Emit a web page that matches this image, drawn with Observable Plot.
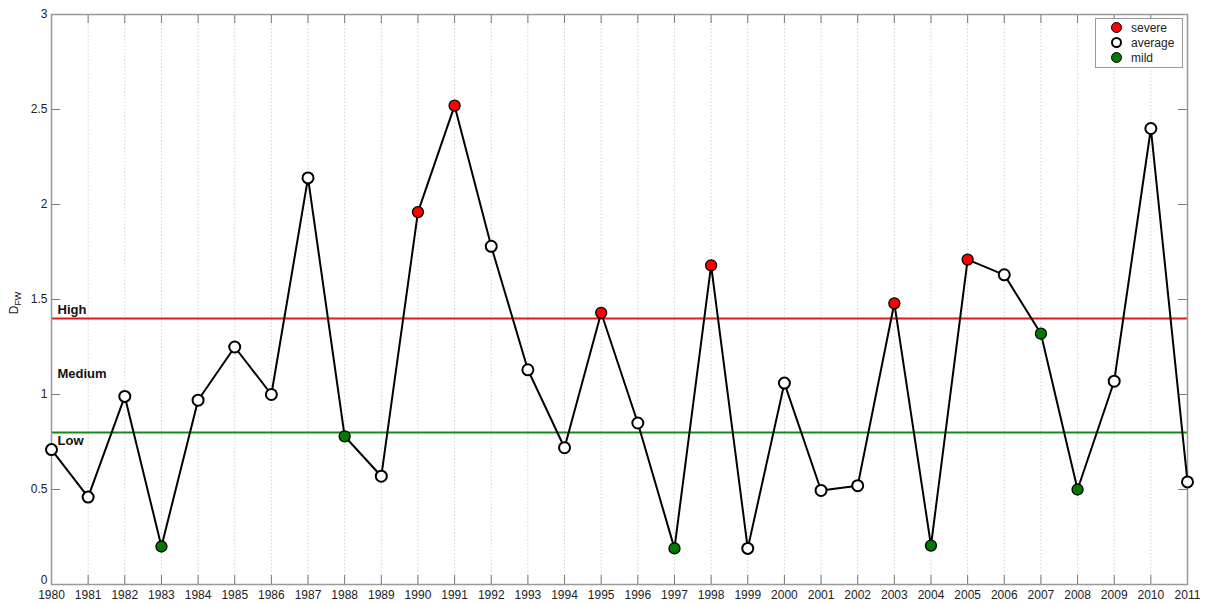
<!DOCTYPE html>
<html>
<head>
<meta charset="utf-8">
<script src="https://cdn.jsdelivr.net/npm/d3@7"></script>
<script src="https://cdn.jsdelivr.net/npm/@observablehq/plot@0.6"></script>
<style>
  html, body { margin: 0; padding: 0; background: #fff; }
  #wrap { position: relative; width: 1206px; height: 603px; font-family: "Liberation Sans", Arial, sans-serif; }
  #legend { position: absolute; left: 1095px; top: 18px; width: 88px; height: 50px; border: 1px solid #9a9a9a; background: #fff; box-sizing: border-box; font-size: 12px; color: #222; }
  #legend .row { position: absolute; left: 15px; height: 15px; line-height: 15px; }
  #legend .sym { display: inline-block; width: 11px; height: 11px; border-radius: 50%; border: 2px solid #000; box-sizing: border-box; vertical-align: -1px; margin-right: 9px; }
</style>
</head>
<body>
<div id="wrap"></div>
<script>
const years = d3.range(1980, 2012);
const values = [0.71, 0.46, 0.99, 0.20, 0.97, 1.25, 1.00, 2.14, 0.78, 0.57,
                1.96, 2.52, 1.78, 1.13, 0.72, 1.43, 0.85, 0.19, 1.68, 0.19,
                1.06, 0.495, 0.52, 1.48, 0.205, 1.71, 1.63, 1.32, 0.50, 1.07,
                2.40, 0.54];
const classes = ["average","average","average","mild","average","average","average","average","mild","average",
                 "severe","severe","average","average","average","severe","average","mild","severe","average",
                 "average","average","average","severe","mild","severe","average","mild","mild","average",
                 "average","average"];
const thresholds = [{name: "High", value: 1.4}, {name: "Low", value: 0.8}];
const zoneLabels = [{text: "High", y: 1.4, dy: -9}, {text: "Medium", y: 1.11, dy: 0}, {text: "Low", y: 0.8, dy: 8}];
const yTicks = [0, 0.5, 1, 1.5, 2, 2.5, 3];
const legendItems = ["severe", "average", "mild"];

const fills = {severe: "#ff0000", average: "#ffffff", mild: "#007a00"};
const lineColors = {High: "#e0191f", Low: "#168a16"};

const data = years.map((year, i) => ({year, value: values[i], cls: classes[i]}));

const W = 1206, H = 603;
const mL = 51, mR = 19, mT = 14, mB = 19;
const fw = W - mL - mR, fh = H - mT - mB;

const chart = Plot.plot({
  width: W, height: H,
  marginLeft: mL, marginRight: mR, marginTop: mT, marginBottom: mB,
  style: {fontFamily: "Liberation Sans, Arial, sans-serif", fontSize: "12px", color: "#222", background: "#fff"},
  x: {domain: [1980, 2011], ticks: years, tickFormat: d => String(d), label: null},
  y: {domain: [0, 3], ticks: yTicks, tickFormat: d => String(d), label: null},
  marks: [
    // vertical dotted grid
    Plot.ruleX(years.slice(1, -1), {x: d => d, stroke: "#d2d2d2", strokeWidth: 1, strokeDasharray: "1.5,2"}),
    // threshold lines
    Plot.ruleY(thresholds, {y: "value", stroke: d => lineColors[d.name], strokeWidth: 2}),
    // inward ticks bottom/top
    Plot.ruleX(years, {x: d => d, insetTop: fh - 9, stroke: "#777", strokeWidth: 1}),
    Plot.ruleX(years, {x: d => d, insetBottom: fh - 9, stroke: "#777", strokeWidth: 1}),
    // inward ticks left/right
    Plot.ruleY(yTicks, {y: d => d, insetRight: fw - 9, stroke: "#777", strokeWidth: 1}),
    Plot.ruleY(yTicks, {y: d => d, insetLeft: fw - 9, stroke: "#777", strokeWidth: 1}),
    Plot.frame({stroke: "#999", strokeWidth: 1.5}),
    Plot.axisX({ticks: years, tickSize: 0, tickPadding: 6, tickFormat: d => String(d), fill: "#222", fontSize: 12, label: null}),
    Plot.axisY({ticks: yTicks.slice(1), tickSize: 0, tickPadding: 4, tickFormat: d => String(d), fill: "#222", fontSize: 12, label: null}),
    Plot.axisY({ticks: yTicks.slice(0, 1), tickSize: 0, tickPadding: 4, dy: -4, tickFormat: d => String(d), fill: "#222", fontSize: 12, label: null}),
    // zone labels
    ...zoneLabels.map(z => Plot.text([z], {x: 1980, y: "y", text: "text", dy: z.dy, dx: 6, textAnchor: "start",
      fontWeight: "bold", fontSize: 13, fill: "#111"})),
    // series
    Plot.line(data, {x: "year", y: "value", stroke: "#000", strokeWidth: 2}),
    Plot.dot(data, {x: "year", y: "value", r: 5.5, fill: d => fills[d.cls], stroke: "#000",
      strokeWidth: d => d.cls === "average" ? 2 : 1.3})
  ]
});

const wrap = document.getElementById("wrap");
wrap.appendChild(chart);

// y-axis label with subscript
const svg = d3.select(chart);
const lab = svg.append("text")
  .attr("transform", `translate(18, ${mT + fh / 2 + 4}) rotate(-90)`)
  .attr("text-anchor", "middle")
  .attr("font-size", 12)
  .attr("fill", "#222")
  .attr("font-family", "Liberation Sans, Arial, sans-serif");
lab.append("tspan").text("D");
lab.append("tspan").attr("font-size", 9).attr("dy", 3).text("FW");

// legend
const legend = document.createElement("div");
legend.id = "legend";
legendItems.forEach((k, i) => {
  const row = document.createElement("div");
  row.className = "row";
  row.style.top = (2 + i * 15) + "px";
  const sym = document.createElement("span");
  sym.className = "sym";
  sym.style.background = fills[k];
  sym.style.borderWidth = k === "average" ? "2px" : "1.3px";
  row.appendChild(sym);
  row.appendChild(document.createTextNode(k));
  legend.appendChild(row);
});
wrap.appendChild(legend);
</script>
</body>
</html>
